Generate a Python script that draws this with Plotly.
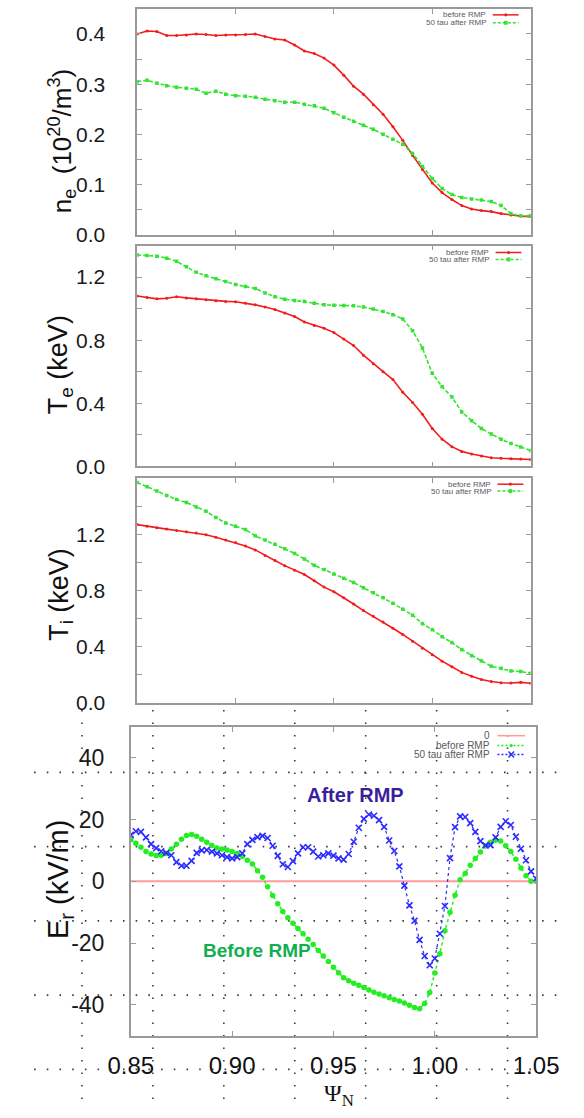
import plotly.graph_objects as go

W, H = 584, 1118

# ---------------- data ----------------
psi = [0.850, 0.855, 0.860, 0.865, 0.870, 0.875, 0.880, 0.885, 0.890, 0.895,
       0.900, 0.905, 0.910, 0.915, 0.920, 0.925, 0.930, 0.935, 0.940, 0.945,
       0.950, 0.955, 0.960, 0.965, 0.970, 0.975, 0.980, 0.985, 0.990, 0.995,
       1.000, 1.005, 1.010, 1.015, 1.020, 1.025, 1.030, 1.035, 1.040, 1.045, 1.050]

ne_before = [0.400, 0.406, 0.405, 0.397, 0.397, 0.398, 0.400, 0.399, 0.397, 0.398,
             0.398, 0.399, 0.400, 0.395, 0.390, 0.388, 0.378, 0.366, 0.361, 0.352,
             0.338, 0.318, 0.296, 0.280, 0.259, 0.240, 0.215, 0.188, 0.158, 0.130,
             0.103, 0.084, 0.070, 0.058, 0.051, 0.048, 0.046, 0.042, 0.039, 0.037, 0.036]
ne_after = [0.305, 0.308, 0.302, 0.297, 0.294, 0.292, 0.290, 0.282, 0.286, 0.280,
            0.277, 0.276, 0.274, 0.270, 0.267, 0.264, 0.264, 0.260, 0.257, 0.252,
            0.243, 0.234, 0.226, 0.218, 0.210, 0.200, 0.190, 0.180, 0.162, 0.136,
            0.112, 0.092, 0.080, 0.074, 0.071, 0.069, 0.066, 0.058, 0.042, 0.037, 0.038]

te_before = [1.080, 1.070, 1.062, 1.066, 1.075, 1.068, 1.062, 1.056, 1.050, 1.046,
             1.044, 1.035, 1.024, 1.010, 0.995, 0.972, 0.950, 0.915, 0.893, 0.876,
             0.848, 0.808, 0.766, 0.705, 0.650, 0.600, 0.550, 0.470, 0.405, 0.330,
             0.240, 0.172, 0.125, 0.095, 0.078, 0.065, 0.055, 0.051, 0.048, 0.046, 0.044]
te_after = [1.340, 1.337, 1.333, 1.320, 1.300, 1.265, 1.230, 1.208, 1.190, 1.172,
            1.153, 1.140, 1.128, 1.100, 1.075, 1.060, 1.052, 1.045, 1.035, 1.024,
            1.022, 1.020, 1.018, 1.010, 0.998, 0.982, 0.962, 0.935, 0.860, 0.750,
            0.590, 0.505, 0.440, 0.345, 0.290, 0.240, 0.205, 0.172, 0.145, 0.122, 0.100]

ti_before = [1.270, 1.258, 1.248, 1.238, 1.228, 1.219, 1.210, 1.198, 1.180, 1.160,
             1.142, 1.118, 1.090, 1.050, 1.015, 0.978, 0.945, 0.915, 0.870, 0.825,
             0.792, 0.750, 0.705, 0.658, 0.617, 0.577, 0.532, 0.488, 0.440, 0.390,
             0.343, 0.298, 0.258, 0.218, 0.190, 0.168, 0.153, 0.144, 0.142, 0.147, 0.141]
ti_after = [1.570, 1.540, 1.510, 1.478, 1.448, 1.428, 1.395, 1.365, 1.320, 1.282,
            1.258, 1.235, 1.190, 1.160, 1.130, 1.098, 1.065, 1.025, 0.980, 0.950,
            0.918, 0.888, 0.858, 0.820, 0.785, 0.750, 0.710, 0.668, 0.625, 0.565,
            0.522, 0.472, 0.430, 0.380, 0.337, 0.300, 0.262, 0.247, 0.228, 0.224, 0.212]

psi_er = [0.8500, 0.8525, 0.8550, 0.8575, 0.8600, 0.8625, 0.8650, 0.8675, 0.8700, 0.8725,
          0.8750, 0.8775, 0.8800, 0.8825, 0.8850, 0.8875, 0.8900, 0.8925, 0.8950, 0.8975,
          0.9000, 0.9025, 0.9050, 0.9075, 0.9100, 0.9125, 0.9150, 0.9175, 0.9200, 0.9225,
          0.9250, 0.9275, 0.9300, 0.9325, 0.9350, 0.9375, 0.9400, 0.9425, 0.9450, 0.9475,
          0.9500, 0.9525, 0.9550, 0.9575, 0.9600, 0.9625, 0.9650, 0.9675, 0.9700, 0.9725,
          0.9750, 0.9775, 0.9800, 0.9825, 0.9850, 0.9875, 0.9900, 0.9925, 0.9950, 0.9975,
          1.0000, 1.0025, 1.0050, 1.0075, 1.0100, 1.0125, 1.0150, 1.0175, 1.0200, 1.0225,
          1.0250, 1.0275, 1.0300, 1.0325, 1.0350, 1.0375, 1.0400, 1.0425, 1.0450, 1.0475, 1.0500]

er_before = [13.4, 12.3, 11.0, 9.6, 8.8, 8.3, 8.4, 9.0, 10.4, 12.0,
             13.6, 14.8, 15.1, 14.6, 13.6, 12.6, 11.6, 10.8, 10.4, 10.1,
             9.6, 9.0, 8.0, 6.8, 5.6, 3.4, 1.3, -1.8, -4.6, -7.3,
             -9.8, -11.8, -13.6, -15.3, -17.0, -18.8, -20.5, -22.4, -24.2, -26.0,
             -27.8, -29.6, -31.2, -32.2, -33.0, -33.7, -34.4, -35.2, -35.9, -36.5,
             -37.1, -37.7, -38.3, -38.8, -39.4, -40.1, -40.9, -41.3, -39.6, -36.0,
             -29.7, -23.5, -16.0, -10.0, -4.5, 0.5, 2.5, 5.2, 7.4, 9.5,
             11.4, 12.6, 13.3, 13.0, 11.5, 9.6, 7.1, 4.3, 1.8, 0.0, 0.0]

er_after = [15.0, 16.2, 16.0, 14.2, 12.0, 10.7, 9.7, 9.2, 8.4, 6.2,
            5.0, 5.0, 6.6, 9.2, 10.0, 10.1, 9.6, 9.0, 8.4, 7.8,
            7.4, 7.8, 9.0, 12.0, 13.4, 14.3, 14.7, 14.0, 11.5, 8.2,
            5.5, 4.6, 6.5, 9.0, 11.0, 11.0, 9.6, 8.0, 8.4, 9.0,
            8.3, 7.4, 7.0, 8.8, 12.8, 17.3, 20.2, 21.6, 21.2, 19.8,
            17.6, 13.2, 9.8, 4.8, -1.4, -7.8, -12.8, -19.0, -24.2, -27.2,
            -25.0, -17.0, -8.0, 7.5, 17.5, 21.0, 20.8, 18.8, 16.0, 13.0,
            11.6, 11.7, 14.2, 17.6, 19.4, 18.2, 14.4, 10.5, 6.8, 3.2, 0.8]

zero_x = [0.85, 1.05]
zero_y = [0.0, 0.0]

legend_labels = ["before RMP", "50 tau after RMP"]
legend_labels_er = ["0", "before RMP", "50 tau after RMP"]

# tick values / labels
x_ticks = [0.85, 0.90, 0.95, 1.00, 1.05]
x_text = ["0.85", "0.90", "0.95", "1.00", "1.05"]
ne_ticks = [0.0, 0.1, 0.2, 0.3, 0.4]
ne_text = ["0.0", "0.1", "0.2", "0.3", "0.4"]
te_ticks = [0.0, 0.4, 0.8, 1.2]
te_text = ["0.0", "0.4", "0.8", "1.2"]
ti_ticks = [0.0, 0.4, 0.8, 1.2]
ti_text = ["0.0", "0.4", "0.8", "1.2"]
er_ticks = [-40, -20, 0, 20, 40]
er_text = ["-40", "-20", "0", "20", "40"]

# ---------------- styles ----------------
RED = "#f21c1c"
GREEN = "#33e433"
GREEN4 = "#22ee22"
BLUE = "#2b2bff"
PINK = "#ff9a9a"
AXC = "#9a9a9a"
TF = "Liberation Sans"

fig = go.Figure()


def add_pair(xa, ya, yb, yaf):
    fig.add_trace(go.Scatter(x=psi, y=yb, mode="lines+markers", xaxis=xa, yaxis=yaf,
                             line=dict(color=RED, width=1.6),
                             marker=dict(symbol="circle", size=3, color=RED),
                             showlegend=False, hoverinfo="skip"))
    fig.add_trace(go.Scatter(x=psi, y=ya, mode="lines+markers", xaxis=xa, yaxis=yaf,
                             line=dict(color=GREEN, width=1.6, dash="4px,2px"),
                             marker=dict(symbol="square", size=3.5, color=GREEN),
                             showlegend=False, hoverinfo="skip"))


add_pair("x", ne_after, ne_before, "y")
add_pair("x2", te_after, te_before, "y2")
add_pair("x3", ti_after, ti_before, "y3")

fig.add_trace(go.Scatter(x=zero_x, y=zero_y, mode="lines", xaxis="x4", yaxis="y4",
                         line=dict(color=PINK, width=1.8), showlegend=False, hoverinfo="skip"))
fig.add_trace(go.Scatter(x=psi_er, y=er_before, mode="lines+markers", xaxis="x4", yaxis="y4",
                         line=dict(color=GREEN4, width=1.5, dash="dot"),
                         marker=dict(symbol="circle", size=5.5, color=GREEN4),
                         showlegend=False, hoverinfo="skip"))
fig.add_trace(go.Scatter(x=psi_er, y=er_after, mode="lines+markers", xaxis="x4", yaxis="y4",
                         line=dict(color=BLUE, width=1.2, dash="dot"),
                         marker=dict(symbol="x-thin", size=6, color=BLUE,
                                     line=dict(color=BLUE, width=1.6)),
                         showlegend=False, hoverinfo="skip"))


def px_x(px):
    return px / W


def px_y(py):
    return 1 - py / H


shapes = []
annotations = []

# background dotted drawing grid (page artefact)
for gx in [64, 141, 218, 295, 372, 449, 526]:
    shapes.append(dict(type="line", xref="paper", yref="paper", layer="below",
                       x0=px_x(gx), x1=px_x(gx), y0=px_y(717), y1=px_y(1118),
                       line=dict(color="#3c3c3c", width=1.6, dash="1.6px,10.9px")))
for gy in [780, 855, 930, 1005, 1080]:
    shapes.append(dict(type="line", xref="paper", yref="paper", layer="below",
                       x0=px_x(12), x1=px_x(584), y0=px_y(gy), y1=px_y(gy),
                       line=dict(color="#3c3c3c", width=1.6, dash="1.6px,11.1px")))


def legend_entry(text, ty, tr, x0, x1, color, dash, mk, fs):
    annotations.append(dict(x=px_x(tr), y=px_y(ty), xref="paper", yref="paper", text=text,
                            showarrow=False, xanchor="right", yanchor="middle",
                            font=dict(size=fs, color="#5a5a5a", family=TF)))
    shapes.append(dict(type="line", xref="paper", yref="paper",
                       x0=px_x(x0), x1=px_x(x1), y0=px_y(ty), y1=px_y(ty),
                       line=dict(color=color, width=1.5, dash=dash)))
    cx = (x0 + x1) / 2
    if mk == "dot":
        s = 1.6
        shapes.append(dict(type="circle", xref="paper", yref="paper", fillcolor=color,
                           line=dict(width=0), x0=px_x(cx - s), x1=px_x(cx + s),
                           y0=px_y(ty + s), y1=px_y(ty - s)))
    elif mk == "square":
        s = 2
        shapes.append(dict(type="rect", xref="paper", yref="paper", fillcolor=color,
                           line=dict(width=0), x0=px_x(cx - s), x1=px_x(cx + s),
                           y0=px_y(ty + s), y1=px_y(ty - s)))
    elif mk == "x":
        s = 3
        for a, b in [(-s, -s), (-s, s)]:
            shapes.append(dict(type="line", xref="paper", yref="paper",
                               x0=px_x(cx + a), x1=px_x(cx - a), y0=px_y(ty + b), y1=px_y(ty - b),
                               line=dict(color=color, width=1.5)))


# legends panels 1-3
for (y1, y2, tr, x0, x1) in [(15, 23, 505, 510, 538), (255, 262, 508, 513, 541), (489, 496, 510, 515, 543)]:
    legend_entry(legend_labels[0], y1, tr, x0, x1, RED, "solid", "dot", 8)
    legend_entry(legend_labels[1], y2, tr, x0, x1, GREEN, "3px,2px", "square", 8)
# legend panel 4
legend_entry(legend_labels_er[0], 743, 509, 515, 545, PINK, "solid", None, 10)
legend_entry(legend_labels_er[1], 753, 509, 515, 545, GREEN4, "2px,2px", "dot", 10)
legend_entry(legend_labels_er[2], 762, 509, 515, 545, BLUE, "2px,2px", "x", 10)

# axis titles
for (txt, cx, cy, fs) in [("n<sub>e</sub>&nbsp;&nbsp;(10<sup>20</sup>/m<sup>3</sup>)", 42, 142, 26),
                          ("T<sub>e</sub>&nbsp;(keV)", 41, 368, 27),
                          ("T<sub>i</sub>&nbsp;(keV)", 41, 600, 27),
                          ("E<sub>r</sub>&nbsp;(kV/m)", 40, 888, 29)]:
    annotations.append(dict(x=px_x(cx), y=px_y(cy), xref="paper", yref="paper", text=txt,
                            textangle=-90, showarrow=False, xanchor="center", yanchor="middle",
                            font=dict(size=fs, color="#111", family=TF)))
annotations.append(dict(x=px_x(343), y=px_y(1089), xref="paper", yref="paper",
                        text="Ψ<sub>N</sub>", showarrow=False, xanchor="center", yanchor="top",
                        font=dict(size=24, color="#111", family="Liberation Serif")))

# in-plot labels
annotations.append(dict(x=0.9609, y=27.9, xref="x4", yref="y4", text="<b>After RMP</b>",
                        showarrow=False, font=dict(size=20, color="#3a1f9c", family=TF)))
annotations.append(dict(x=0.9123, y=-22.4, xref="x4", yref="y4", text="<b>Before RMP</b>",
                        showarrow=False, font=dict(size=19, color="#10b050", family=TF)))


def xaxis(dom, anchor, labels, tickfont=None):
    d = dict(domain=dom, anchor=anchor, range=[0.85, 1.05], showgrid=False, zeroline=False,
             showline=True, linecolor=AXC, linewidth=1.5, mirror="ticks",
             ticks="inside", ticklen=5, tickcolor=AXC, tickwidth=1,
             tickvals=x_ticks, showticklabels=labels)
    if labels:
        d.update(ticktext=x_text, tickfont=tickfont, ticklabelstandoff=8)
    return d


def yaxis(dom, anchor, rng, vals, texts, fs, standoff, minor_dtick=None):
    d = dict(domain=dom, anchor=anchor, range=rng, showgrid=False, zeroline=False,
             showline=True, linecolor=AXC, linewidth=1.5, mirror="ticks",
             ticks="inside", ticklen=5, tickcolor=AXC, tickwidth=1,
             tickvals=vals, ticktext=texts,
             tickfont=dict(size=fs, color="#1a1a1a", family=TF),
             ticklabelstandoff=standoff)
    if minor_dtick:
        d["minor"] = dict(ticks="inside", ticklen=5, tickcolor=AXC, tickwidth=1,
                          tick0=0, dtick=minor_dtick, showgrid=False)
    return d


dx = [px_x(124), px_x(551)]
dx4 = [px_x(117), px_x(557)]

fig.update_layout(
    width=W, height=H,
    margin=dict(l=0, r=0, t=0, b=0),
    paper_bgcolor="white", plot_bgcolor="rgba(0,0,0,0)",
    showlegend=False,
    xaxis=xaxis(dx, "y", False),
    yaxis=yaxis([px_y(237), px_y(9)], "x", [0, 0.45], ne_ticks, ne_text, 21, 26, 0.05),
    xaxis2=xaxis(dx, "y2", False),
    yaxis2=yaxis([px_y(471), px_y(248)], "x2", [0, 1.4], te_ticks, te_text, 21, 26, 0.2),
    xaxis3=xaxis(dx, "y3", False),
    yaxis3=yaxis([px_y(710), px_y(483)], "x3", [0, 1.6], ti_ticks, ti_text, 21, 26, 0.2),
    xaxis4=xaxis(dx4, "y4", True, dict(size=24, color="#111", family=TF)),
    yaxis4=yaxis([px_y(1046), px_y(734)], "x4", [-50, 50], er_ticks, er_text, 23, 20),
    shapes=shapes,
    annotations=annotations,
)

fig.write_html("out.html")
